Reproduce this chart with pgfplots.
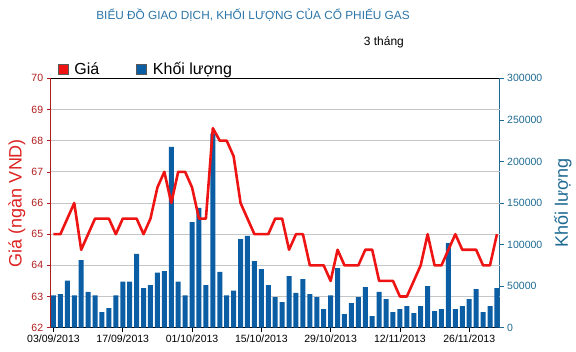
\documentclass[border=0pt]{standalone}
\usepackage{fontspec}
\setmainfont{Liberation Sans}
\usepackage{pgfplots}
\usepackage{pgfplotstable}
\pgfplotsset{compat=1.18}
\definecolor{barblue}{HTML}{0B5EA3}
\definecolor{linered}{HTML}{EE1414}
\definecolor{axred}{HTML}{B01C1C}
\definecolor{labred}{HTML}{DD2222}
\definecolor{axblue}{HTML}{1E6A92}
\definecolor{titleblue}{HTML}{2B75A8}
\definecolor{gridgray}{HTML}{C6C6C6}

\pgfplotstableread{
x vol price
0 39000 65
1 40500 65
2 56500 65.5
3 39000 66
4 81300 64.5
5 43000 65
6 39000 65.5
7 18800 65.5
8 23600 65.5
9 39000 65
10 55300 65.5
11 55300 65.5
12 88900 65.5
13 47700 65
14 51300 65.5
15 66100 66.5
16 68100 67
17 217500 66
18 55300 67
19 39000 67
20 127000 66.5
21 144200 65.5
22 51300 65.5
23 233500 68.4
24 67300 68
25 39000 68
26 44500 67.5
27 106500 66
28 110500 65.5
29 80100 65
30 70500 65
31 51300 65
32 36800 65.5
33 30800 65.5
34 62100 64.5
35 42000 65
36 58500 65
37 40500 64
38 36800 64
39 22400 64
40 39000 63.5
41 71700 64.5
42 16400 64
43 29600 64
44 36800 64
45 48900 64.5
46 14000 64.5
47 43000 63.5
48 34400 63.5
49 18800 63.5
50 22400 63
51 26000 63
52 17600 63.5
53 26000 64
54 50100 65
55 20000 64
56 22400 64
57 101700 64.5
58 22400 65
59 26000 64.5
60 34400 64.5
61 46500 64.5
62 18800 64
63 26000 64
64 47700 65
}\data

\begin{document}
\begin{tikzpicture}
\pgfplotsset{
  common/.style={
    at={(0,0)}, anchor=south west,
    scale only axis, width=449pt, height=249.4pt,
    xmin=-0.4, xmax=64.4,
    tick align=outside,
    major tick length=4pt,
    /pgf/number format/assume math mode=true,
    ticklabel style={font=\fontsize{10.5}{12}\selectfont},
  }
}
% volume axis (bars, right axis, grid)
\begin{axis}[common,
  ymin=0, ymax=300000,
  axis x line*=box, axis y line*=right,
  x axis line style={black, line width=0.8pt},
  y axis line style={axblue, line width=0.8pt},
  xtick pos=bottom,
  xtick={0,10,20,30,40,50,60},
  xticklabels={03/09/2013,17/09/2013,01/10/2013,15/10/2013,29/10/2013,12/11/2013,26/11/2013},
  x tick style={black, line width=0.6pt},
  xticklabel style={black},
  ytick={0,50000,100000,150000,200000,250000,300000},
  scaled y ticks=false,
  yticklabel style={axblue, /pgf/number format/fixed, /pgf/number format/1000 sep={}},
  y tick style={axblue, line width=0.6pt},
  extra y ticks={37500,75000,112500,150000,187500,225000,262500},
  extra y tick labels={},
  extra y tick style={grid=major, major tick length=0pt, major grid style={gridgray, line width=0.9pt}},
  ylabel={Khối lượng},
  every axis y label/.style={at={(axis description cs:1.1405,0.5)}, rotate=90, anchor=center, font=\fontsize{18}{20}\selectfont, axblue},
  legend columns=2,
  legend style={at={(axis description cs:0,1)}, anchor=south west, xshift=7pt, yshift=0pt, draw=none, fill=none,
    font=\fontsize{16}{18}\selectfont, inner sep=0pt,
    /tikz/every odd column/.append style={column sep=4pt},
    /tikz/every even column/.append style={column sep=35pt}},
]
\addlegendimage{legend image code/.code={\draw[fill=linered, draw=black!65, line width=0.6pt] (0pt,-5pt) rectangle (10pt,5pt);}}
\addlegendentry{Giá}
\addplot[ybar, bar width=5pt, fill=barblue, draw=none,
  legend image code/.code={\draw[fill=barblue, draw=black!65, line width=0.6pt] (0pt,-5pt) rectangle (10pt,5pt);}]
  table[x=x, y=vol] {\data};
\addlegendentry{Khối lượng}
\end{axis}
% price axis (line, left axis)
\begin{axis}[common,
  ymin=62, ymax=70,
  ytick={62,63,...,70},
  hide x axis,
  axis y line*=left,
  y axis line style={axred, line width=0.8pt},
  yticklabel style={axred, /pgf/number format/fixed},
  y tick style={axred, line width=0.6pt},
  ylabel={Giá (ngàn VND)},
  every axis y label/.style={at={(axis description cs:-0.0752,0.5)}, rotate=90, anchor=center, font=\fontsize{18}{20}\selectfont, labred},
]
\addplot[linered, line width=2.6pt, line join=round, mark=none] table[x=x, y=price] {\data};
\end{axis}
\node[font=\fontsize{11.8}{13}\selectfont, text=titleblue, anchor=center] at (202.3pt,312.7pt) {BIỂU ĐỒ GIAO DỊCH, KHỐI LƯỢNG CỦA CỔ PHIẾU GAS};
\node[font=\fontsize{12}{14}\selectfont, text=black, anchor=center] at (333.2pt,285.6pt) {3 tháng};
\pgfresetboundingbox
\path[use as bounding box] (-50.7pt,-23.3pt) rectangle (525.3pt,327.7pt);
\end{tikzpicture}
\end{document}
